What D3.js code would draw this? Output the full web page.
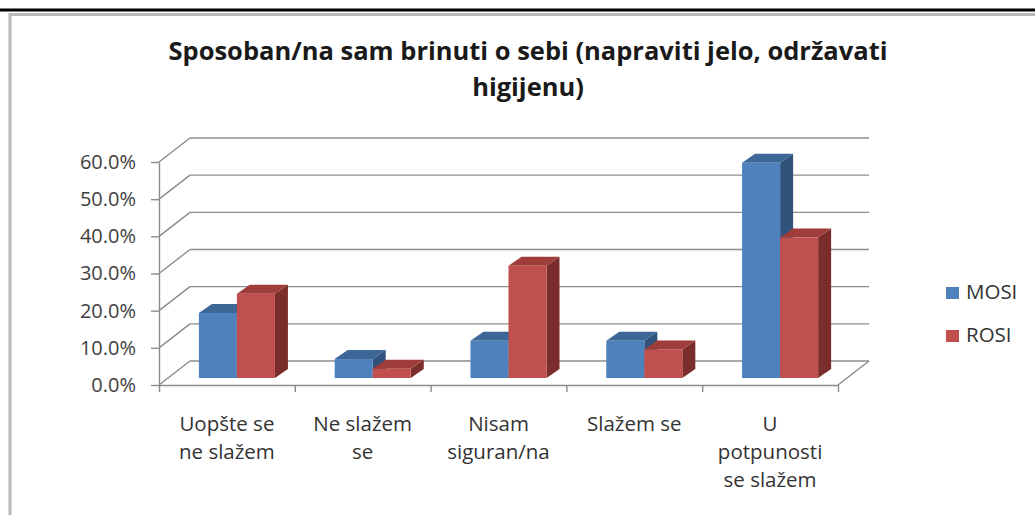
<!DOCTYPE html>
<html>
<head>
<meta charset="utf-8">
<script src="https://cdn.jsdelivr.net/npm/d3@7"></script>
<style>
  body { margin: 0; background: #fff; }
  svg { display: block; font-family: "Open Sans", "DejaVu Sans", sans-serif; }
</style>
</head>
<body>
<div id="chart"></div>
<script>
// data
const categories = ['Uopšte se ne slažem', 'Ne slažem se', 'Nisam siguran/na', 'Slažem se', 'U potpunosti se slažem'];
const categoryLines = [['Uopšte se', 'ne slažem'], ['Ne slažem', 'se'], ['Nisam', 'siguran/na'], ['Slažem se'], ['U', 'potpunosti', 'se slažem']];
const seriesNames = ['MOSI', 'ROSI'];
const mosi = [0.175, 0.051, 0.100, 0.100, 0.579];
const rosi = [0.227, 0.025, 0.302, 0.077, 0.378];
const yTicks = [0, 0.1, 0.2, 0.3, 0.4, 0.5, 0.6];
const titleLines = ['Sposoban/na sam brinuti o sebi (napraviti jelo, održavati', 'higijenu)'];

const W = 1035, H = 515;
const colors = {
  MOSI: { front: '#4f81bd', top: '#3d6796', side: '#30527b' },
  ROSI: { front: '#c0504d', top: '#9e3d3a', side: '#7a2d2b' }
};

// 3D-ish geometry: wall depth and bar depth offsets
const depth = { dx: 31, dy: -24 };
const barFront = { dx: 10, dy: -7 };
const barDepth = { dx: 13, dy: -9 };

const svg = d3.select('#chart').append('svg').attr('width', W).attr('height', H);

// frame
svg.append('line').attr('x1', 0).attr('x2', W).attr('y1', 10).attr('y2', 10)
  .attr('stroke', '#000').attr('stroke-width', 3);
svg.append('path').attr('d', `M10,${H} V14.5 H${W}`)
  .attr('fill', 'none').attr('stroke', '#b8b8b8').attr('stroke-width', 3);

// title
svg.append('text').attr('text-anchor', 'middle')
  .style('font-size', '25.5px').style('font-weight', 'bold').attr('fill', '#1a1a1a')
  .selectAll('tspan').data(titleLines).join('tspan')
  .attr('x', 528).attr('y', (d, i) => 60 + i * 36).text(d => d);

// scales
const y = d3.scaleLinear().domain([0, 0.6]).range([385, 162]);
const xEdge = d3.scaleLinear().domain([0, categories.length]).range([159, 838]);
const x0 = d3.scaleBand().domain(categories).range([159, 838]).paddingInner(0.44).paddingOuter(0.22);
const x1 = d3.scaleBand().domain(seriesNames).range([0, x0.bandwidth()]);

const grid = svg.append('g').attr('stroke', '#8c8c8c').attr('stroke-width', 1.4).attr('fill', 'none');
// back wall gridlines
grid.selectAll('.back').data(yTicks).join('line')
  .attr('x1', xEdge(0) + depth.dx).attr('x2', xEdge(categories.length) + depth.dx)
  .attr('y1', d => y(d) + depth.dy).attr('y2', d => y(d) + depth.dy);
// side wall gridlines
grid.selectAll('.side').data(yTicks).join('line')
  .attr('x1', xEdge(0)).attr('x2', xEdge(0) + depth.dx)
  .attr('y1', d => y(d)).attr('y2', d => y(d) + depth.dy);
// floor right edge
grid.append('line')
  .attr('x1', xEdge(categories.length)).attr('y1', y(0))
  .attr('x2', xEdge(categories.length) + depth.dx).attr('y2', y(0) + depth.dy);

// bars
const bars = [];
categories.forEach((c, i) => {
  bars.push({ cat: c, s: 'MOSI', v: mosi[i] });
  bars.push({ cat: c, s: 'ROSI', v: rosi[i] });
});
const gBars = svg.append('g');
bars.forEach(b => {
  const x = x0(b.cat) + x1(b.s) + barFront.dx;
  const w = x1.bandwidth();
  const yb = y(0) + barFront.dy;
  const yt = y(b.v) + barFront.dy;
  const c = colors[b.s];
  const g = gBars.append('g');
  g.append('path').attr('fill', c.side)
    .attr('d', `M${x + w},${yt} L${x + w + barDepth.dx},${yt + barDepth.dy} L${x + w + barDepth.dx},${yb + barDepth.dy} L${x + w},${yb} Z`);
  g.append('path').attr('fill', c.top)
    .attr('d', `M${x},${yt} L${x + barDepth.dx},${yt + barDepth.dy} L${x + w + barDepth.dx},${yt + barDepth.dy} L${x + w},${yt} Z`);
  g.append('rect').attr('fill', c.front)
    .attr('x', x).attr('y', yt).attr('width', w).attr('height', yb - yt);
});

// front axes
const yAxis = svg.append('g').attr('transform', `translate(${xEdge(0)},0)`)
  .call(d3.axisLeft(y).tickValues(yTicks).tickFormat(d3.format('.1%')).tickSize(8).tickSizeOuter(0));
yAxis.select('.domain').attr('stroke', '#8c8c8c').attr('stroke-width', 1.4);
yAxis.selectAll('.tick line').attr('stroke', '#8c8c8c').attr('stroke-width', 1.4);
yAxis.selectAll('.tick text').attr('x', -23).attr('fill', '#404040')
  .style('font-size', '20px').style('font-family', '"Open Sans", sans-serif');

const xAxis = svg.append('g').attr('transform', `translate(0,${y(0)})`)
  .call(d3.axisBottom(xEdge).tickValues(d3.range(categories.length + 1)).tickFormat('').tickSize(7).tickSizeOuter(0));
xAxis.select('.domain').attr('stroke', '#8c8c8c').attr('stroke-width', 1.4);
xAxis.selectAll('.tick line').attr('stroke', '#8c8c8c').attr('stroke-width', 1.4);

// category labels
svg.append('g').selectAll('text').data(categories).join('text')
  .attr('text-anchor', 'middle').attr('fill', '#333')
  .style('font-size', '20.5px')
  .each(function (d, i) {
    const cx = (xEdge(i) + xEdge(i + 1)) / 2;
    d3.select(this).selectAll('tspan').data(categoryLines[i]).join('tspan')
      .attr('x', cx).attr('y', (l, j) => 431 + j * 28).text(l => l);
  });

// legend
const legend = svg.append('g').attr('transform', 'translate(946,287)');
seriesNames.forEach((s, i) => {
  const item = legend.append('g').attr('transform', `translate(0,${i * 43})`);
  item.append('rect').attr('width', 13).attr('height', 12).attr('fill', colors[s].front);
  item.append('text').attr('x', 20).attr('y', 12).text(s)
    .style('font-size', '20.5px').attr('fill', '#333');
});
</script>
</body>
</html>
